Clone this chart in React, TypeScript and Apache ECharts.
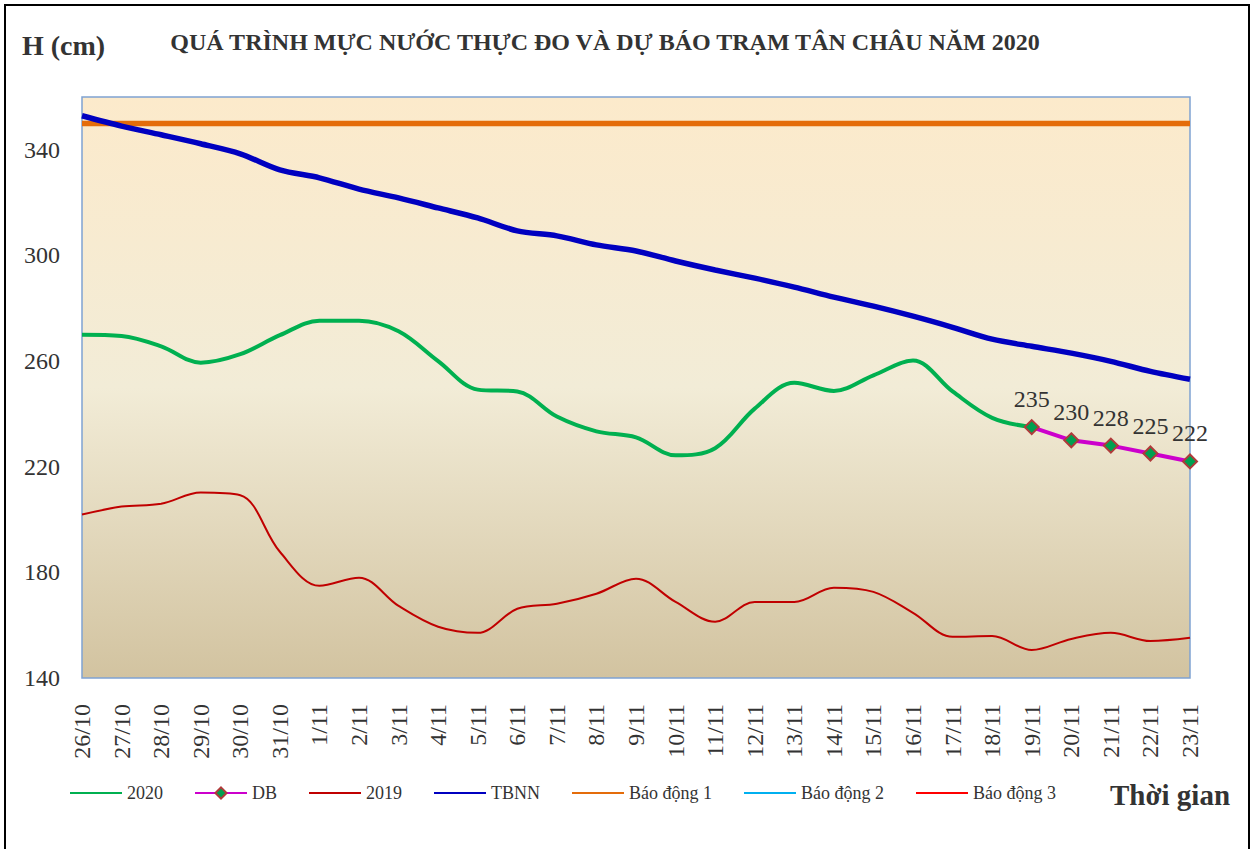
import React, { useEffect, useRef } from "react";
import * as echarts from "echarts";

const categories = [
  "26/10", "27/10", "28/10", "29/10", "30/10", "31/10",
  "1/11", "2/11", "3/11", "4/11", "5/11", "6/11", "7/11", "8/11", "9/11", "10/11",
  "11/11", "12/11", "13/11", "14/11", "15/11", "16/11", "17/11", "18/11", "19/11",
  "20/11", "21/11", "22/11", "23/11",
];

const obs2020 = [
  270, 269.5, 265.6, 259.4, 262.6, 269.8, 275.3, 275.3, 271.3, 260, 249.2, 248.5,
  239, 233.4, 231.1, 224.3, 227, 242, 251.8, 248.7, 254.6, 260.2, 248.5, 238.5, 235,
  null, null, null, null,
];

const forecastDB = [
  null, null, null, null, null, null, null, null, null, null, null, null, null, null,
  null, null, null, null, null, null, null, null, null, null, 235, 230, 228, 225, 222,
];

const obs2019 = [
  201.9, 204.9, 206, 210.2, 209.2, 187.8, 174.9, 178, 167.3, 159.4, 157.1, 166.2,
  168.1, 171.9, 177.6, 168.8, 161.3, 168.8, 168.8, 174.2, 172.6, 164.7, 155.6, 155.9,
  150.6, 154.8, 157.1, 154, 155.2,
];

const tbnn = [
  352.9, 349, 345.7, 342.3, 338.5, 332.4, 329.4, 325.1, 321.8, 318, 314.2, 309.3,
  307.4, 304, 301.7, 297.9, 294.5, 291.4, 288, 284.2, 280.8, 277, 272.8, 268.3,
  265.6, 263, 259.9, 256.1, 253.1,
];

const alarm1 = categories.map(() => 350);
const alarm2 = categories.map(() => 400);
const alarm3 = categories.map(() => 450);

const legendNames = ["2020", "DB", "2019", "TBNN", "Báo động 1", "Báo động 2", "Báo động 3"];

const yTicks = { min: 140, max: 360, interval: 40 };

const FONT = "'Liberation Serif', 'Times New Roman', serif";
const TXT = "#333333";

export default function App() {
  const ref = useRef<HTMLDivElement>(null);

  useEffect(() => {
    if (!ref.current) return;
    const chart = echarts.init(ref.current, null, { renderer: "svg" });
    chart.setOption({
      animation: false,
      backgroundColor: "#ffffff",
      textStyle: { fontFamily: FONT, color: TXT },
      grid: {
        left: 82,
        right: 68,
        top: 97,
        bottom: 171,
        show: true,
        borderColor: "#7FA2D2",
        borderWidth: 1.5,
        backgroundColor: {
          type: "linear",
          x: 0, y: 0, x2: 0, y2: 1,
          colorStops: [
            { offset: 0, color: "#FCEACB" },
            { offset: 0.5, color: "#F2ECD7" },
            { offset: 1, color: "#D2C3A0" },
          ],
        },
      },
      legend: {
        left: 64,
        top: 779,
        itemWidth: 52,
        itemHeight: 14,
        itemGap: 31,
        textStyle: { fontFamily: FONT, fontSize: 18, color: TXT },
        lineStyle: { width: 2 },
        data: legendNames.map((n) =>
          n === "DB" ? { name: n } : { name: n, itemStyle: { opacity: 0 } }
        ),
      },
      xAxis: {
        type: "category",
        data: categories,
        boundaryGap: false,
        axisLine: { show: false },
        axisTick: { show: false },
        splitLine: { show: false },
        axisLabel: {
          rotate: 90,
          interval: 0,
          margin: 26,
          fontSize: 24,
          fontFamily: FONT,
          color: TXT,
        },
      },
      yAxis: {
        type: "value",
        min: yTicks.min,
        max: yTicks.max,
        interval: yTicks.interval,
        axisLine: { show: false },
        axisTick: { show: false },
        splitLine: { show: false },
        axisLabel: {
          showMaxLabel: false,
          margin: 22,
          fontSize: 24,
          fontFamily: FONT,
          color: TXT,
          formatter: (v: number) => (v === 360 ? "" : String(v)),
        },
      },
      series: [
        {
          name: "2020",
          type: "line",
          data: obs2020,
          smooth: 0.35,
          symbol: "none",
          lineStyle: { color: "#00B050", width: 4 },
          itemStyle: { color: "#00B050" },
          z: 4,
        },
        {
          name: "DB",
          type: "line",
          data: forecastDB,
          symbol: "diamond",
          symbolSize: 14,
          lineStyle: { color: "#CC00CC", width: 4 },
          itemStyle: { color: "#00A050", borderColor: "#B03A3A", borderWidth: 2 },
          label: {
            show: true,
            position: "top",
            distance: 8,
            fontSize: 24,
            fontFamily: FONT,
            color: TXT,
          },
          z: 6,
        },
        {
          name: "2019",
          type: "line",
          data: obs2019,
          smooth: 0.35,
          symbol: "none",
          lineStyle: { color: "#C00000", width: 2 },
          itemStyle: { color: "#C00000" },
          z: 3,
        },
        {
          name: "TBNN",
          type: "line",
          data: tbnn,
          smooth: 0.3,
          symbol: "none",
          lineStyle: { color: "#0000C0", width: 5.5 },
          itemStyle: { color: "#0000C0" },
          z: 3,
        },
        {
          name: "Báo động 1",
          type: "line",
          data: alarm1,
          symbol: "none",
          lineStyle: { color: "#E46C0A", width: 5.5 },
          itemStyle: { color: "#E46C0A" },
          z: 2,
        },
        {
          name: "Báo động 2",
          type: "line",
          data: alarm2,
          symbol: "none",
          lineStyle: { color: "#00B0F0", width: 2 },
          itemStyle: { color: "#00B0F0" },
          z: 2,
        },
        {
          name: "Báo động 3",
          type: "line",
          data: alarm3,
          symbol: "none",
          lineStyle: { color: "#FF0000", width: 2 },
          itemStyle: { color: "#FF0000" },
          z: 2,
        },
      ],
      graphic: [
        {
          type: "rect",
          shape: { x: 5, y: 5, width: 1244, height: 860 },
          style: { fill: "none", stroke: "#000000", lineWidth: 2 },
          silent: true,
        },
        {
          type: "text",
          x: 22,
          y: 45,
          style: {
            text: "H (cm)",
            fontFamily: FONT,
            fontSize: 28,
            fontWeight: "bold",
            fill: TXT,
            textVerticalAlign: "middle",
          },
        },
        {
          type: "text",
          x: 605,
          y: 42,
          style: {
            text: "QUÁ TRÌNH MỰC NƯỚC THỰC ĐO VÀ DỰ BÁO TRẠM TÂN CHÂU NĂM 2020",
            fontFamily: FONT,
            fontSize: 24,
            fontWeight: "bold",
            fill: TXT,
            textAlign: "center",
            textVerticalAlign: "middle",
          },
        },
        {
          type: "text",
          x: 1110,
          y: 795,
          style: {
            text: "Thời gian",
            fontFamily: FONT,
            fontSize: 29,
            fontWeight: "bold",
            fill: TXT,
            textVerticalAlign: "middle",
          },
        },
      ],
    });
    return () => chart.dispose();
  }, []);

  return (
    <div
      ref={ref}
      style={{ position: "absolute", left: 0, top: 0, width: 1258, height: 849 }}
    />
  );
}
